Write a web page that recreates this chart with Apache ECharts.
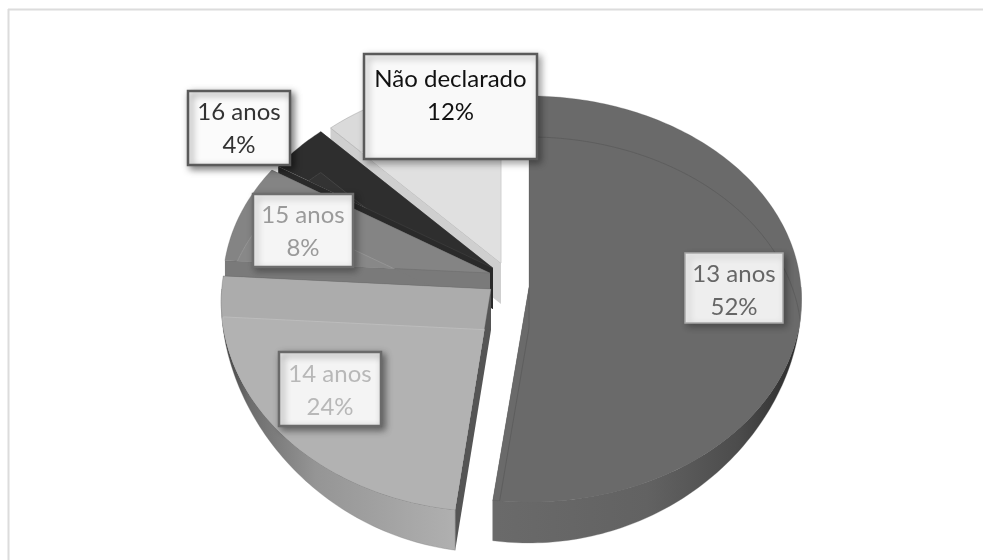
<!DOCTYPE html>
<html><head><meta charset="utf-8">
<style>html,body{margin:0;padding:0;background:#fff}#c{width:983px;height:560px}</style>
<script src="https://cdn.jsdelivr.net/npm/echarts@6/dist/echarts.min.js"></script>
</head><body><div id="c"></div>
<script>
const categories = ['13 anos','14 anos','15 anos','16 anos','Não declarado'];
const values = [52,24,8,4,12];

const RX=272, RY=202.3, K=0.059, D=41;
const looks = [
 {cx:529,cy:287,sx:1,sy:1,top:'#6a6a6a',band:'#6a6a6a',line:'#5e5e5e',cut:'#5a5a5a',
  wall:[[0,'#6a6a6a'],[0.5,'#626262'],[0.8,'#4c4c4c'],[1,'#2c2c2c']],wx:[497,798],
  box:[685,253,98,70],fill:'#eeeeee',bd:'#a8a8a8',bw:1.5,txt:'#666666',ty:3,sh:'rgba(0,0,0,.3)'},
 {cx:491,cy:289,sx:.99,sy:1.035,top:'#b2b2b2',band:'#acacac',line:'#bcbcbc',cut:'#555555',
  wall:[[0,'#3f3f3f'],[0.12,'#6d6d6d'],[0.4,'#959595'],[1,'#b0b0b0']],wx:[222,456],
  box:[279,352,102,74],fill:'#f4f4f4',bd:'#6a6a6a',bw:2.5,txt:'#b8b8b8',ty:2,sh:'rgba(0,0,0,.45)'},
 {cx:490,cy:273,sx:.98,sy:.98,top:'#888888',band:'#848484',line:'#959595',cut:'#7a7a7a',
  wall:[[0,'#777777'],[1,'#777777']],wx:[222,300],
  box:[253,194,100,73],fill:'#f5f5f5',bd:'#6e6e6e',bw:2.5,txt:'#9a9a9a',ty:1,sh:'rgba(0,0,0,.3)'},
 {cx:493,cy:268,sx:.965,sy:.965,top:'#333333',band:'#2e2e2e',line:'#444444',cut:'#2a2a2a',
  wall:[[0,'#222222'],[1,'#222222']],wx:[280,320],
  box:[188,91,102,74],fill:'#fbfbfb',bd:'#5a5a5a',bw:2.5,txt:'#333333',ty:1,sh:'rgba(0,0,0,.5)'},
 {cx:501,cy:263,sx:.955,sy:.955,top:'#e0e0e0',band:'#dadada',line:'#d0d0d0',cut:'#cfcfcf',
  wall:[[0,'#cccccc'],[1,'#cccccc']],wx:[331,501],
  box:[364,54,173,105],fill:'#f9f9f9',bd:'#5a5a5a',bw:2.5,txt:'#111111',ty:-11,sh:'rgba(0,0,0,.35)'}
];
const drawOrder = [4,3,2,1,0];

const total = values.reduce((a,b)=>a+b,0);
const spans = []; let acc = 0;
values.forEach(v=>{const a=acc/total*360; acc+=v; spans.push([a,acc/total*360]);});

function pt(l,deg,dy){const t=deg*Math.PI/180,u=Math.sin(t),v=Math.cos(t),w=1+K*v;
  return [l.cx+RX*l.sx*u/w, l.cy-RY*l.sy*v/w+(dy||0)];}
function arc(l,a,b,dy){const r=[],n=Math.max(2,Math.ceil(Math.abs(b-a)));
  for(let i=0;i<=n;i++) r.push(pt(l,a+(b-a)*i/n,dy)); return r;}
function wallDepth(deg){return D*Math.pow(Math.abs(Math.cos(deg*Math.PI/180)),1.5);}

function sliceElements(i){
  const l=looks[i],[a,b]=spans[i],apex=[l.cx,l.cy],els=[];
  const apexD=[l.cx,l.cy+D];
  const grad=(s,x0,x1)=>new echarts.graphic.LinearGradient(x0,0,x1,0,s.map(p=>({offset:p[0],color:p[1]})),true);
  [a,b].forEach(e=>{const r=pt(l,e),rd=pt(l,e,D);
    els.push({type:'polygon',shape:{points:[apex,r,rd,apexD]},style:{fill:l.cut}});});
  const wa=Math.max(a,90),wb=Math.min(b,270);
  if(wb>wa){
    const up=arc(l,wa,wb,0),lo=[];
    const n=Math.ceil(wb-wa);
    for(let k=n;k>=0;k--){const d=wa+(wb-wa)*k/n; lo.push(pt(l,d,wallDepth(d)));}
    els.push({type:'polygon',shape:{points:up.concat(lo)},
      style:{fill:grad(l.wall,l.wx[0],l.wx[1]),stroke:'rgba(120,120,120,.5)',lineWidth:.6}});
  }
  const face=[apex].concat(arc(l,a,b));
  els.push({type:'polygon',shape:{points:face},style:{fill:l.band,stroke:'rgba(90,90,90,.35)',lineWidth:.8}});
  const inner=[[l.cx,l.cy+D]].concat(arc(l,a,b,D));
  els.push({type:'polygon',shape:{points:inner},style:{fill:l.top,stroke:l.line,lineWidth:1},
    clipPath:{type:'polygon',shape:{points:face}}});
  return els;
}

const chart = echarts.init(document.getElementById('c'),null,{renderer:'canvas'});
chart.setOption({
  animation:false,
  backgroundColor:'#ffffff',
  graphic:{elements:[
    {type:'line',z:0,shape:{x1:8,y1:9.5,x2:983,y2:9.5},style:{stroke:'#dcdcdc',lineWidth:2}},
    {type:'line',z:0,shape:{x1:8.5,y1:9,x2:8.5,y2:560},style:{stroke:'#dcdcdc',lineWidth:2}}
  ]},
  series:[
   {type:'custom',coordinateSystem:'none',z:2,silent:true,
    data:drawOrder.map(i=>({value:[i,values[i]],name:categories[i]})),
    renderItem:(p,api)=>({type:'group',children:sliceElements(api.value(0))})},
   {type:'custom',coordinateSystem:'none',z:3,silent:true,
    data:categories.map((c,i)=>({value:[i,values[i]],name:c})),
    renderItem:(p,api)=>{
      const i=api.value(0),l=looks[i],[x,y,w,h]=l.box;
      return {type:'group',children:[
        {type:'rect',shape:{x,y,width:w,height:h},
         style:{fill:l.fill,stroke:l.bd,lineWidth:l.bw,shadowBlur:7,shadowOffsetX:3,shadowOffsetY:3,shadowColor:l.sh}},
        {type:'text',style:{x:x+w/2,y:y+h/2+l.ty,text:categories[i]+'\n'+api.value(1)+'%',
          align:'center',verticalAlign:'middle',fill:l.txt,
          font:'24px Lato',lineHeight:33}}
      ]};
    }}
  ]
});
</script></body></html>
